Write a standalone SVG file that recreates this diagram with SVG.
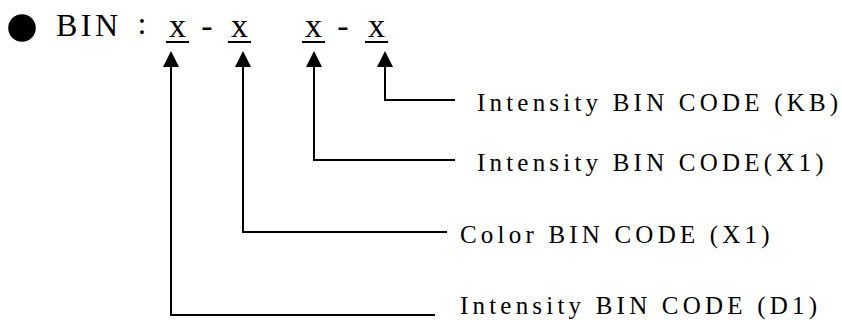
<svg xmlns="http://www.w3.org/2000/svg" width="842" height="320" viewBox="0 0 842 320">
<style>
.hdr{font-family:"Liberation Serif","Times New Roman",serif;fill:#000}
.lbl{font-family:"Liberation Serif","Times New Roman",serif;font-size:25px;letter-spacing:4.2px;fill:#000}
.conn{fill:none;stroke:#000;stroke-width:2}
.ul{stroke:#000;stroke-width:2}
</style>
<defs>
<marker id="arr" viewBox="0 0 16 16" refX="7" refY="8" markerWidth="16" markerHeight="16" markerUnits="userSpaceOnUse" orient="auto">
<path d="M0,0 L16,8 L0,16 z" fill="#000"/>
</marker>
</defs>
<rect width="842" height="320" fill="#fff"/>
<g id="header">
<circle cx="22" cy="28" r="13.8" fill="#000"/>
<text class="hdr" x="56" y="36" font-size="32" letter-spacing="3.5">BIN</text>
<text class="hdr" x="142" y="34" font-size="32" text-anchor="middle">:</text>
<text class="hdr" x="177.5" y="37" font-size="34" text-anchor="middle">x</text>
<text class="hdr" x="207" y="37" font-size="34" text-anchor="middle">-</text>
<text class="hdr" x="239.5" y="37" font-size="34" text-anchor="middle">x</text>
<text class="hdr" x="313.5" y="37" font-size="34" text-anchor="middle">x</text>
<text class="hdr" x="343" y="37" font-size="34" text-anchor="middle">-</text>
<text class="hdr" x="376.5" y="37" font-size="34" text-anchor="middle">x</text>
<line class="ul" x1="166" y1="42" x2="189" y2="42"/>
<line class="ul" x1="228" y1="42" x2="251" y2="42"/>
<line class="ul" x1="302" y1="42" x2="325" y2="42"/>
<line class="ul" x1="365" y1="42" x2="388" y2="42"/>
</g>
<g id="connectors">
<path class="conn" d="M455,100 H385 V60" marker-end="url(#arr)"/>
<path class="conn" d="M455,160 H314 V60" marker-end="url(#arr)"/>
<path class="conn" d="M447,232 H243 V60" marker-end="url(#arr)"/>
<path class="conn" d="M435,315 H171 V60" marker-end="url(#arr)"/>
</g>
<g id="label-kb"><text class="lbl" x="477" y="111">Intensity BIN CODE (KB)</text></g>
<g id="label-x1-intensity"><text class="lbl" x="477" y="171">Intensity BIN CODE(X1)</text></g>
<g id="label-x1-color"><text class="lbl" x="460" y="243">Color BIN CODE (X1)</text></g>
<g id="label-d1"><text class="lbl" x="460" y="314">Intensity BIN CODE (D1)</text></g>
</svg>
